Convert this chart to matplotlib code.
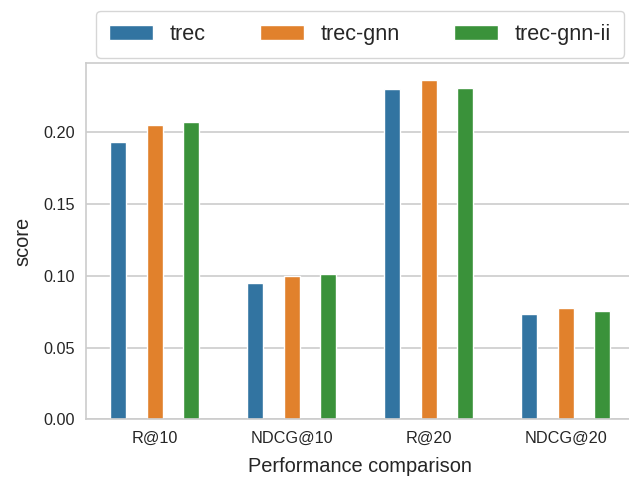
import matplotlib.pyplot as plt
import seaborn as sns
import numpy as np

# valores
metrics = ['R@10', 'NDCG@10', 'R@20', 'NDCG@20']
models = ['trec', 'trec-gnn', 'trec-gnn-ii']
trec = [0.193, 0.0952, 0.2300, 0.0732]
trec_gnn = [0.205, 0.1001, 0.2362, 0.0774]
trec_gnn_ii = [0.207, 0.1013, 0.2311, 0.0753]

sns.set_style('whitegrid')
plt.rcParams['font.family'] = ['Liberation Sans', 'DejaVu Sans']
plt.rcParams['text.color'] = '#262626'
plt.rcParams['axes.labelcolor'] = '#262626'
plt.rcParams['xtick.color'] = '#262626'
plt.rcParams['ytick.color'] = '#262626'

colors = ['#3274a1', '#e1812c', '#3a923a']

W, H = 629, 479
fig = plt.figure(figsize=(W / 100, H / 100), dpi=100)
ax = fig.add_axes([86 / W, 1 - 419.3 / H, (634.4 - 86) / W, (419.3 - 62.7) / H])

x = np.arange(len(metrics))
step = 0.8 / 3
for i, (vals, name) in enumerate(zip([trec, trec_gnn, trec_gnn_ii], models)):
    ax.bar(x + (i - 1) * step, vals, width=0.117, color=colors[i], label=name)

ax.set_xlim(-0.5, 3.5)
ax.set_ylim(0, 0.2485)
ax.set_yticks([0, 0.05, 0.10, 0.15, 0.20])
ax.set_yticklabels(['0.00', '0.05', '0.10', '0.15', '0.20'])
ax.set_xticks(x)
ax.set_xticklabels(metrics)
ax.tick_params(axis='both', labelsize=11.7, length=0, pad=8)
ax.xaxis.grid(False)
ax.yaxis.grid(True, color='#cccccc', linewidth=1.2)
for s in ax.spines.values():
    s.set_color('#cccccc')
    s.set_linewidth(1.2)
ax.set_xlabel('Performance comparison', fontsize=14.4, labelpad=8)
ax.set_ylabel('score', fontsize=14.4, labelpad=8)

# legenda acima do gráfico
h, l = ax.get_legend_handles_labels()
top = 1 - 10.8 / H
fig.legend(h, l, loc='upper left', ncol=3, mode='expand', fontsize=15.6,
           bbox_to_anchor=(96.3 / W, top - 0.01, 528 / W, 0.01),
           borderaxespad=0, borderpad=0.6, frameon=True, edgecolor='#cccccc')

plt.savefig('out.png', dpi=100)
